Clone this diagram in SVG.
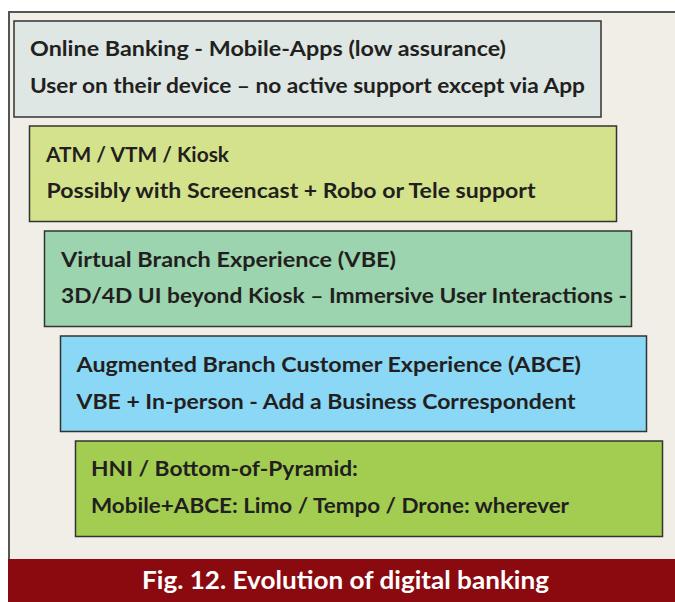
<svg xmlns="http://www.w3.org/2000/svg" width="675" height="602" viewBox="0 0 675 602">
<style>
.box{stroke:#333;stroke-width:1.5}
.t{font-family:Lato,"Open Sans","Liberation Sans",sans-serif;font-weight:bold;font-size:21px;fill:#231f20}
.cap{font-family:Lato,"Open Sans","Liberation Sans",sans-serif;font-weight:bold;font-size:24px;fill:#ffffff}
</style>
<rect x="0" y="0" width="675" height="602" fill="#ffffff"/>
<rect x="9" y="12" width="666" height="547" fill="#f1eee8"/>
<path d="M9 559 V12 H675" fill="none" stroke="#555" stroke-width="2"/>
<g id="box1">
<rect class="box" x="14" y="21" width="587" height="96" fill="#dee7e4"/>
<text class="t" x="30" y="56" textLength="476" lengthAdjust="spacingAndGlyphs">Online Banking - Mobile-Apps (low assurance)</text>
<text class="t" x="30" y="93" textLength="555" lengthAdjust="spacingAndGlyphs">User on their device – no active support except via App</text>
</g>
<g id="box2">
<rect class="box" x="29.5" y="126" width="587" height="95.5" fill="#d4e38b"/>
<text class="t" x="46" y="161.5" textLength="183" lengthAdjust="spacingAndGlyphs">ATM / VTM / Kiosk</text>
<text class="t" x="46.5" y="198" textLength="489" lengthAdjust="spacingAndGlyphs">Possibly with Screencast + Robo or Tele support</text>
</g>
<g id="box3">
<rect class="box" x="44.5" y="231" width="587" height="95.5" fill="#9bd4ae"/>
<text class="t" x="61" y="266.5" textLength="335" lengthAdjust="spacingAndGlyphs">Virtual Branch Experience (VBE)</text>
<text class="t" x="61" y="303" textLength="566" lengthAdjust="spacingAndGlyphs">3D/4D UI beyond Kiosk – Immersive User Interactions -</text>
</g>
<g id="box4">
<rect class="box" x="60.5" y="336" width="586" height="95.5" fill="#8ad7f6"/>
<text class="t" x="76.5" y="372" textLength="504.5" lengthAdjust="spacingAndGlyphs">Augmented Branch Customer Experience (ABCE)</text>
<text class="t" x="76.5" y="408.5" textLength="499" lengthAdjust="spacingAndGlyphs">VBE + In-person - Add a Business Correspondent</text>
</g>
<g id="box5">
<rect class="box" x="75.5" y="441" width="587" height="95.5" fill="#a2cd50"/>
<text class="t" x="91" y="475.5" textLength="267" lengthAdjust="spacingAndGlyphs">HNI / Bottom-of-Pyramid:</text>
<text class="t" x="91" y="512.5" textLength="478" lengthAdjust="spacingAndGlyphs">Mobile+ABCE: Limo / Tempo / Drone: wherever</text>
</g>
<g id="connectors"></g>
<g id="caption">
<rect x="8" y="559" width="667" height="43" fill="#8b0a10"/>
<text class="cap" x="142" y="588.5" textLength="407" lengthAdjust="spacingAndGlyphs">Fig. 12. Evolution of digital banking</text>
</g>
</svg>
